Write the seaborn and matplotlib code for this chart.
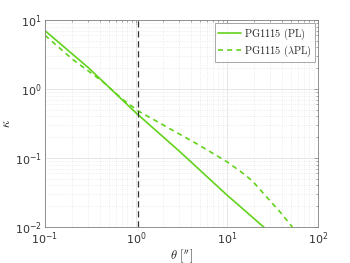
import numpy as np
import pandas as pd
import seaborn as sns
import matplotlib.pyplot as plt
from matplotlib.lines import Line2D
from matplotlib.ticker import LogLocator, NullFormatter

# values
theta_pl = [0.1, 0.3, 1.0, 3.0, 10.0, 30.0]
kappa_pl = [7.0, 2.03, 0.45, 0.125, 0.029, 0.0082]

theta_apl = [0.1, 0.2, 0.44, 0.7, 1.06, 2.0, 2.7, 4.6, 10.0, 15.8, 19.4, 39.9, 52.0, 60.0]
kappa_apl = [6.0, 2.7, 1.25, 0.72, 0.48, 0.30, 0.24, 0.162, 0.088, 0.057, 0.045, 0.0155, 0.010, 0.0078]

theta_e = 1.06
green = '#62d21c'

df = pd.concat([
    pd.DataFrame({'theta': theta_pl, 'kappa': kappa_pl, 'model': 'PL'}),
    pd.DataFrame({'theta': theta_apl, 'kappa': kappa_apl, 'model': 'APL'}),
])

sns.set_style('white')
plt.rcParams['mathtext.fontset'] = 'cm'
plt.rcParams['font.family'] = ['DejaVu Sans']

fig = plt.figure(figsize=(3.5, 2.63), dpi=100)
ax = fig.add_axes([0.1286, 0.137, 0.78, 0.787])

sns.lineplot(data=df, x='theta', y='kappa', hue='model', style='model',
             palette=[green, green], dashes=[(None, None), (3, 2.5)],
             linewidth=1.2, ax=ax, legend=False)
ax.axvline(theta_e, color='#333333', linestyle=(0, (5, 3)), linewidth=0.9)

ax.set_xscale('log')
ax.set_yscale('log')
ax.set_xlim(0.1, 100)
ax.set_ylim(0.01, 10)

ax.xaxis.set_major_locator(LogLocator(base=10, numticks=10))
ax.yaxis.set_major_locator(LogLocator(base=10, numticks=10))
ax.xaxis.set_minor_locator(LogLocator(base=10, subs=np.arange(2, 10), numticks=20))
ax.yaxis.set_minor_locator(LogLocator(base=10, subs=np.arange(2, 10), numticks=20))
ax.xaxis.set_minor_formatter(NullFormatter())
ax.yaxis.set_minor_formatter(NullFormatter())

ax.grid(True, which='major', color='#e2e2e2', linewidth=0.6)
ax.grid(True, which='minor', color='#e6e6e6', linestyle=':', linewidth=0.6)
ax.set_axisbelow(True)

for s in ax.spines.values():
    s.set_color('#808080')
    s.set_linewidth(0.6)
ax.tick_params(which='both', direction='in', top=True, right=True,
               colors='#808080', labelcolor='#333333', labelsize=8)
ax.tick_params(which='major', length=3, width=0.5, pad=2.5)
ax.tick_params(which='minor', length=1.5, width=0.5)

ax.set_xlabel('$\\theta\\ [^{\\prime\\prime}]$', fontsize=9)
ax.set_ylabel('$\\kappa$', fontsize=9, rotation=90)
ax.xaxis.set_label_coords(0.5, -0.095)
ax.yaxis.set_label_coords(-0.118, 0.5)

handles = [Line2D([], [], color=green, linewidth=1.2),
           Line2D([], [], color=green, linewidth=1.2, dashes=(3, 2.5))]
leg = ax.legend(handles, ['$\\mathrm{PG1115\\ (PL)}$', '$\\mathrm{PG1115\\ (\\lambda PL)}$'],
                loc='upper right', fontsize=7.5, frameon=True, fancybox=False,
                borderaxespad=0.3, handlelength=2.2, handletextpad=0.3,
                borderpad=0.3, labelspacing=0.2)
leg.get_frame().set_edgecolor('#808080')
leg.get_frame().set_linewidth(0.6)

fig.savefig('out.png', dpi=100)
